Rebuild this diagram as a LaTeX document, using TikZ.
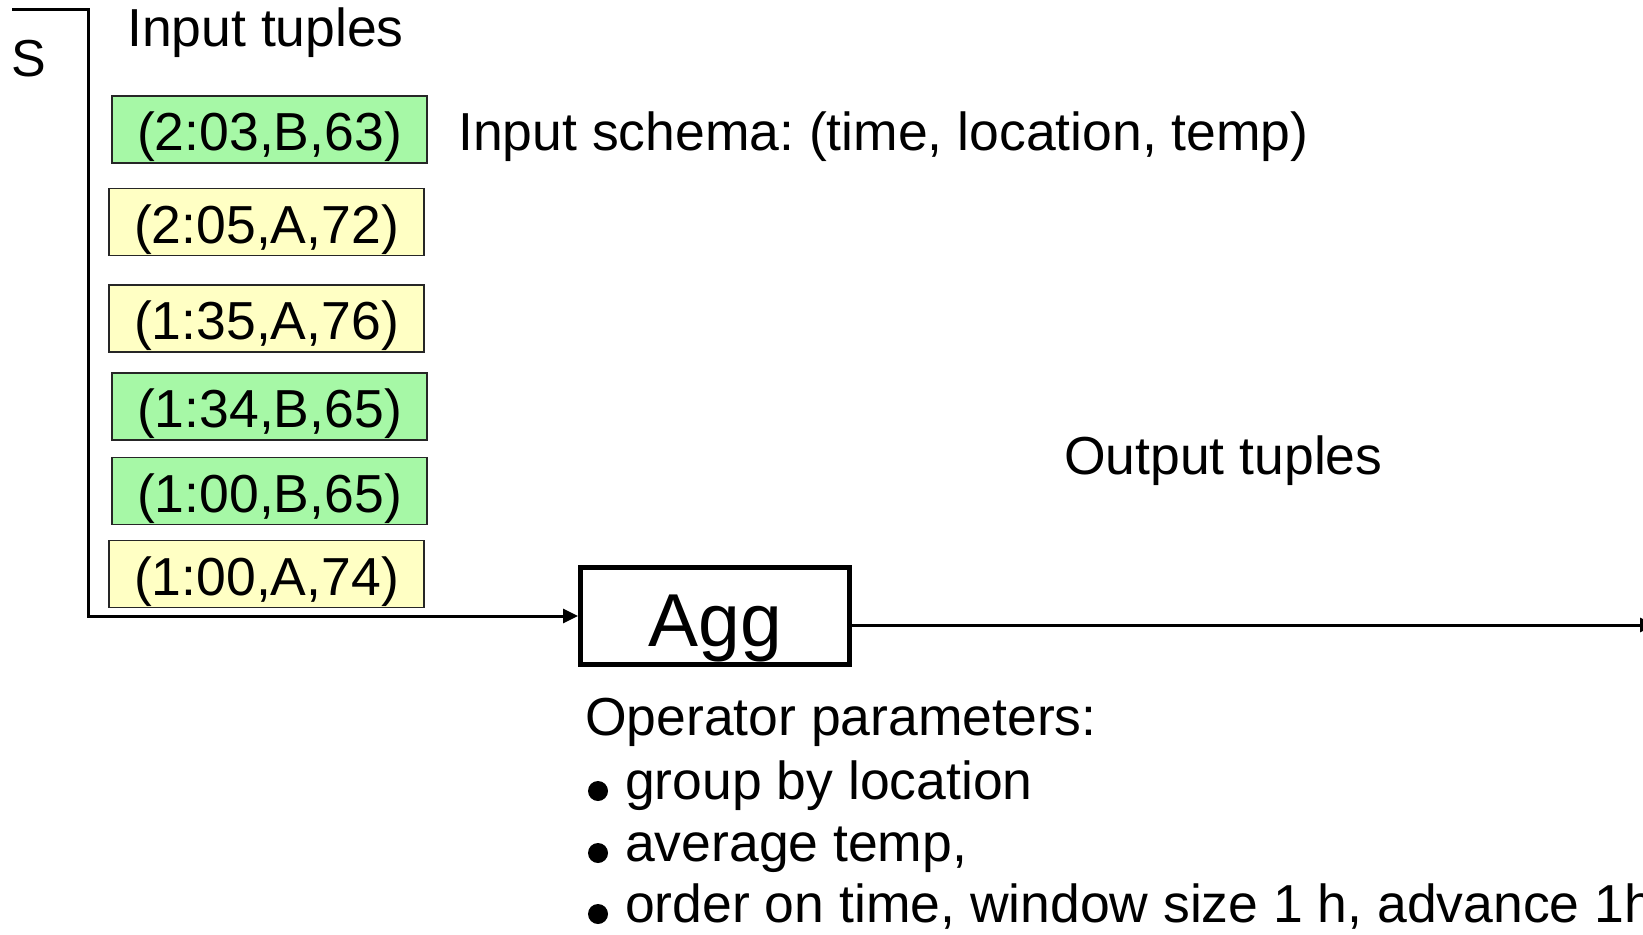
\documentclass[tikz,border=0pt]{standalone}
\usepackage{fontspec}
\setmainfont{Liberation Sans}
\usetikzlibrary{arrows.meta}
\definecolor{tuplegreen}{RGB}{166,248,166}
\definecolor{tupleyellow}{RGB}{255,255,196}
\frenchspacing

\begin{document}
\begin{tikzpicture}[x=1pt, y=-1pt,
    txt/.style={anchor=base west, inner sep=0pt, font=\fontsize{53.5}{60}\selectfont},
    tuple/.style={draw=black!85, line width=1.5pt, inner sep=0pt,
      minimum width=315pt, minimum height=67pt, text height=42pt, text depth=0pt,
      font=\fontsize{53.5}{60}\selectfont},
    flow/.style={line width=3pt, -{Triangle[length=15pt, width=14pt]}}]
  \useasboundingbox (0,0) rectangle (1643,934);

  \node[txt, font=\fontsize{52}{52}\selectfont] (s) at (11,76) {S};
  \node[txt] (intitle) at (127,47) {Input tuples};

  \node[tuple, fill=tuplegreen] (t1) at (269.5,129.5) {(2:03,B,63)};
  \node[tuple, fill=tupleyellow] (t2) at (266.5,222) {(2:05,A,72)};
  \node[tuple, fill=tupleyellow] (t3) at (266.5,318.5) {(1:35,A,76)};
  \node[tuple, fill=tuplegreen] (t4) at (269.5,406.5) {(1:34,B,65)};
  \node[tuple, fill=tuplegreen] (t5) at (269.5,491) {(1:00,B,65)};
  \node[tuple, fill=tupleyellow] (t6) at (266.5,574) {(1:00,A,74)};
  \node[txt] (schema) at (458,150) {Input schema: (time, location, temp)};

  \node[draw, line width=5pt, minimum width=269pt, minimum height=97pt, inner sep=0pt,
    text height=60pt, text depth=0pt, font=\fontsize{75}{75}\selectfont] (agg) at (715,616) {Agg};
  \node[txt] (outtitle) at (1064,474) {Output tuples};

  \coordinate (s0) at (12,10);
  \coordinate (s1) at (88,10);
  \coordinate (out) at (1655,625);
  \draw[flow] (s0) -- (s1) |- (agg.west);
  \draw[flow] (agg.east |- out) -- (out);

  \node[txt] (op) at (585,735) {Operator parameters:};
  \node[txt] (op1) at (625,799) {group by location};
  \node[txt] (op2) at (625,861) {average temp,};
  \node[txt] (op3) at (625,922) {order on time, window size 1 h, advance 1h};
  \foreach \n in {op1,op2,op3}
    \fill ([shift={(-27,-8)}]\n.base west) circle (10pt);
\end{tikzpicture}
\end{document}
